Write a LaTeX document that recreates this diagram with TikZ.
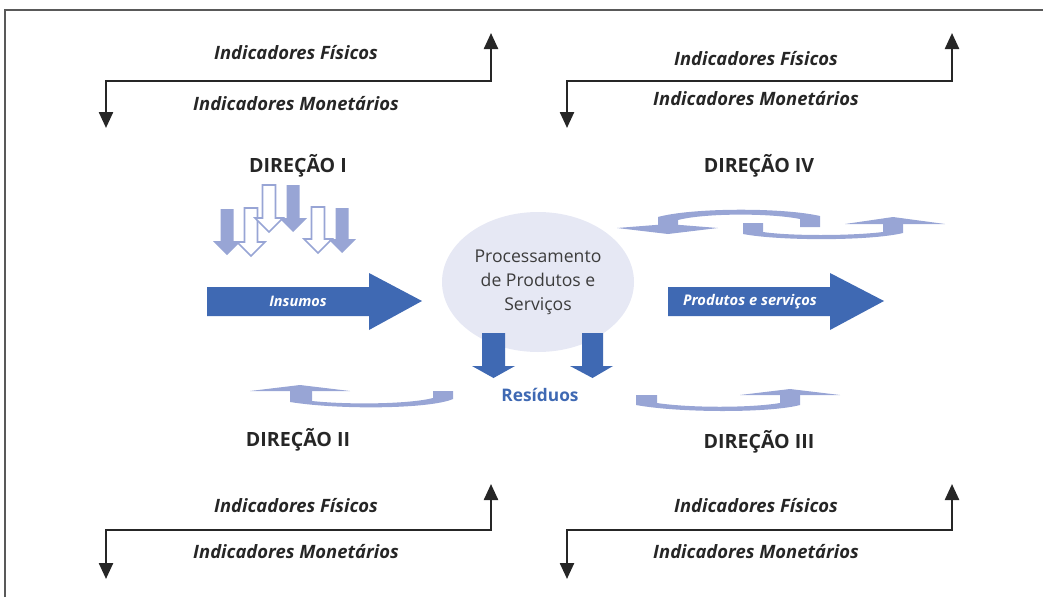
\documentclass[tikz,border=0pt]{standalone}
\usepackage{fontspec}
\setmainfont{Open Sans}
\usepackage{xcolor}
\usepackage{tikz}
\usetikzlibrary{arrows.meta, shapes.geometric}

\definecolor{darkblue}{HTML}{3F69B3}
\definecolor{lightblue}{HTML}{98A5D5}
\definecolor{ellfill}{HTML}{E6E8F4}
\definecolor{txtgray}{HTML}{3C3C3C}

% small vertical arrow: style, x, top, tip
\newcommand{\dnarrow}[4]{%
  \draw[#1] (#2-6.5,#3) -- (#2+6.5,#3) -- (#2+6.5,#4-14) -- (#2+14,#4-14)
    -- (#2,#4) -- (#2-14,#4-14) -- (#2-6.5,#4-14) -- cycle;}

\begin{document}
\begin{tikzpicture}[x=1pt, y=-1pt,
      ind/.style={line width=2.4pt, draw=black!85, {Triangle[length=16pt,width=14pt]}-{Triangle[length=16pt,width=14pt]}},
      indtxt/.style={font=\fontsize{18.4}{22}\selectfont\bfseries\itshape, text=black!85},
      dirtxt/.style={font=\fontsize{19.6}{22}\selectfont\bfseries, text=black!85},
      full/.style={fill=lightblue, draw=none},
      hollow/.style={fill=white, draw=lightblue, line width=1.6pt},
      curv/.style={fill=lightblue}]
  \useasboundingbox (0,0) rectangle (1043,597);

  % frame
  \draw[line width=2pt, black!65] (4.5,597) -- (4.5,9.5) -- (1043,9.5);

  % indicators
  \coordinate (tla) at (106,128); \coordinate (tlb) at (491,33);
  \coordinate (tra) at (567,128); \coordinate (trb) at (952,33);
  \coordinate (bla) at (106,579); \coordinate (blb) at (491,484);
  \coordinate (bra) at (567,579); \coordinate (brb) at (952,484);
  \draw[ind] (tla) -- ++(0,-47) -| (tlb);
  \draw[ind] (tra) -- ++(0,-47) -| (trb);
  \draw[ind] (bla) -- ++(0,-49) -| (blb);
  \draw[ind] (bra) -- ++(0,-49) -| (brb);
  \node[indtxt] (tlf) at (296,53) {Indicadores Físicos};
  \node[indtxt] (tlm) at (296,104) {Indicadores Monetários};
  \node[indtxt] (trf) at (756,59) {Indicadores Físicos};
  \node[indtxt] (trm) at (756,99) {Indicadores Monetários};
  \node[indtxt] (blf) at (296,506) {Indicadores Físicos};
  \node[indtxt] (blm) at (296,552) {Indicadores Monetários};
  \node[indtxt] (brf) at (756,506) {Indicadores Físicos};
  \node[indtxt] (brm) at (756,552) {Indicadores Monetários};

  % directions
  \node[dirtxt] (dir1) at (298,166) {DIREÇÃO I};
  \node[dirtxt] (dir4) at (759,166) {DIREÇÃO IV};
  \node[dirtxt] (dir2) at (298,440) {DIREÇÃO II};
  \node[dirtxt] (dir3) at (759,442) {DIREÇÃO III};

  % direction I arrows
  \dnarrow{full}{227}{209}{255}
  \dnarrow{hollow}{251}{208}{256}
  \dnarrow{hollow}{269}{185}{232}
  \dnarrow{full}{293}{185}{232}
  \dnarrow{hollow}{318}{207}{253}
  \dnarrow{full}{342}{208}{253}

  % direction IV
  \fill[curv] (617,228) -- (668,224) -- (718,228) -- (668,234) -- cycle;
  \fill[curv] (658,232) -- (658,217) .. controls (690,208) and (780,207) .. (820,216)
    -- (820,227) -- (800,227) -- (800,219) .. controls (770,213) and (705,213) .. (678,220)
    -- (678,232) -- cycle;
  \fill[curv] (743,223) -- (763,223) -- (763,232) .. controls (790,236) and (850,236) .. (883,232)
    -- (883,223) -- (903,223) -- (903,233) .. controls (870,241) and (780,241) .. (743,234) -- cycle;
  \fill[curv] (845,224) -- (893,217) -- (945,224) -- cycle;

  % direction II
  \fill[curv] (290,391) -- (312,391) -- (312,401) .. controls (350,405) and (410,404) .. (433,398)
    -- (433,391) -- (453,391) -- (453,399) .. controls (430,409) and (340,410) .. (290,402) -- cycle;
  \fill[curv] (250,391) -- (300,385) -- (350,391) -- cycle;

  % direction III
  \fill[curv] (636,395) -- (657,395) -- (657,403) .. controls (690,408) and (750,408) .. (780,403)
    -- (780,395) -- (800,395) -- (800,405) .. controls (770,413) and (680,413) .. (636,405) -- cycle;
  \fill[curv] (740,395) -- (790,389) -- (840,395) -- cycle;

  % processing
  \node[ellipse, fill=ellfill, minimum width=192, minimum height=140, inner sep=0pt,
        align=center, text=txtgray, font=\fontsize{17.6}{24}\selectfont] (proc) at (538,282)
        {Processamento\\de Produtos e\\Serviços};

  % inputs and outputs
  \fill[darkblue] (207,287) -- (369,287) -- (369,273) -- (422,301) -- (369,330) -- (369,316) -- (207,316) -- cycle;
  \node[text=white, font=\fontsize{14.5}{17}\selectfont\bfseries\itshape] (insumos) at (298,301) {Insumos};
  \fill[darkblue] (668,287) -- (830,287) -- (830,273) -- (884,301) -- (830,330) -- (830,316) -- (668,316) -- cycle;
  \node[text=white, font=\fontsize{14.7}{17}\selectfont\bfseries\itshape] (produtos) at (750,302) {Produtos e serviços};

  % waste
  \fill[darkblue] (482,333) -- (505,333) -- (505,366) -- (515,366) -- (493.5,378) -- (472,366) -- (482,366) -- cycle;
  \fill[darkblue] (582,333) -- (603,333) -- (603,366) -- (613,366) -- (592.5,378) -- (570,366) -- (582,366) -- cycle;
  \node[text=darkblue, font=\fontsize{17.3}{20}\selectfont\bfseries] (residuos) at (540,395) {Resíduos};
\end{tikzpicture}
\end{document}
